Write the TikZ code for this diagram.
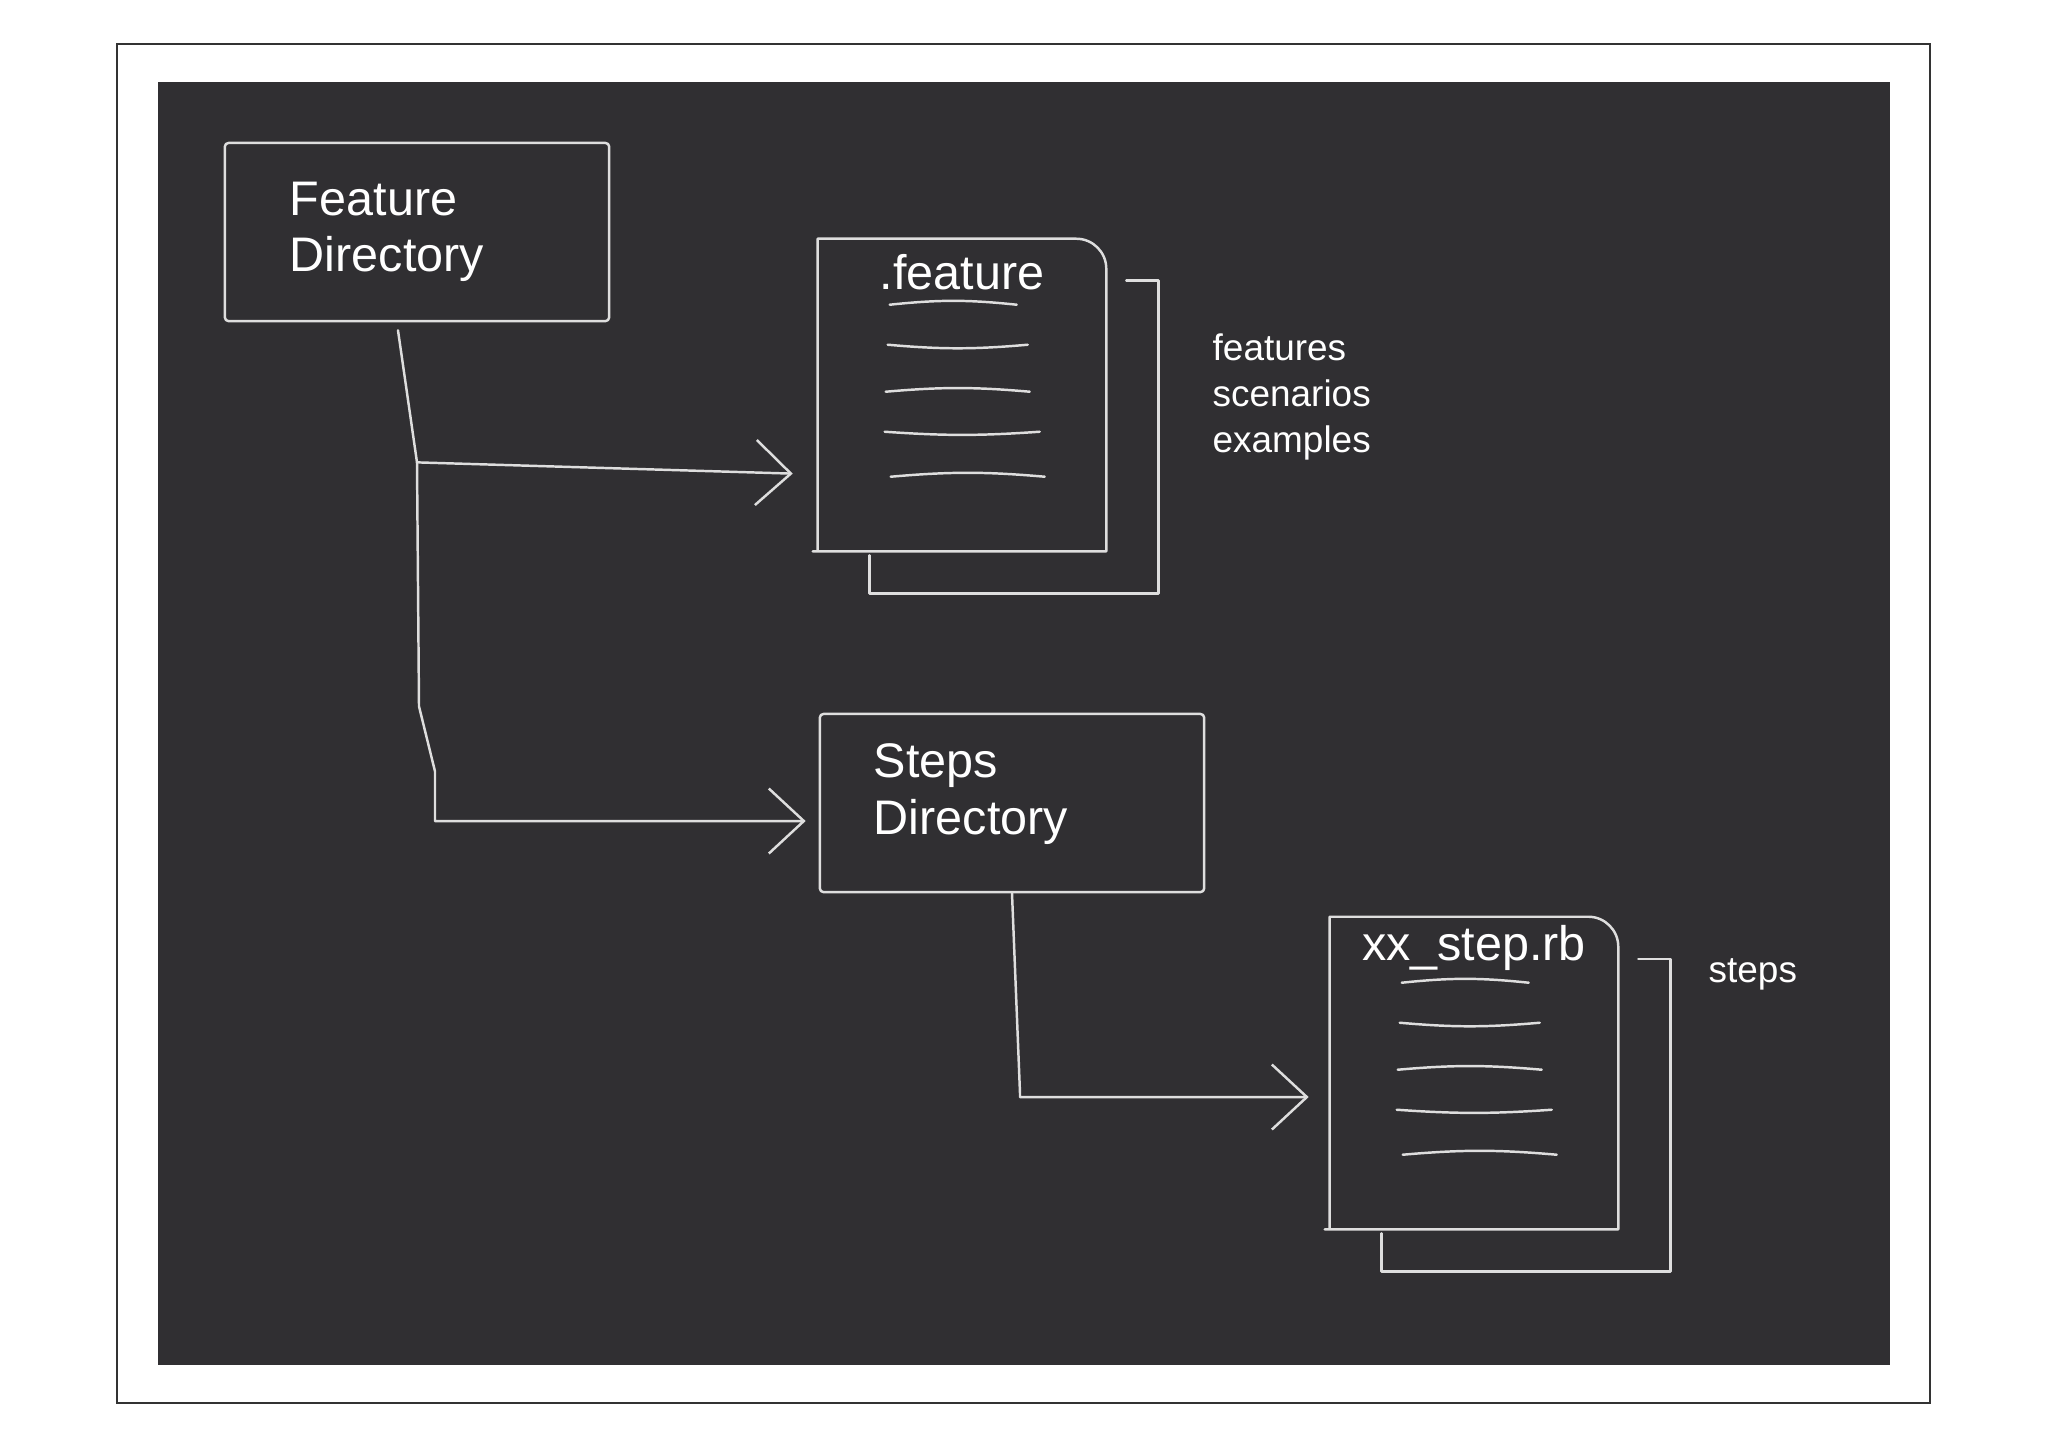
\documentclass[tikz,border=0pt]{standalone}
\usepackage{fontspec}
\setmainfont{Liberation Sans}
\usetikzlibrary{arrows.meta,positioning}

\definecolor{board}{RGB}{48,47,50}
\definecolor{chalkline}{RGB}{222,222,222}

\begin{document}
\begin{tikzpicture}[
    x=0.01cm, y=-0.01cm,
    chalk/.style={draw=chalkline, line width=0.7pt, line cap=round, line join=round},
    dirbox/.style={chalk, rectangle, rounded corners=1pt, align=left, text=white, font=\fontsize{13.8pt}{16pt}\selectfont, minimum height=1.78cm, inner xsep=0.65cm, text width=2.54cm},
    page/.style={rectangle, minimum width=2.87cm, minimum height=3.11cm, inner sep=0pt},
    pagetitle/.style={text=white, font=\fontsize{13.8pt}{16pt}\selectfont, inner sep=0pt},
    note/.style={text=white, align=left, font=\fontsize{10.5pt}{13.1pt}\selectfont, inner sep=0pt},
    flow/.style={chalk, -{Straight Barb[length=3.5mm, width=6.5mm]}}
]
% paper, frame and board
\fill[white] (0,0) rectangle (2048,1447);
\draw[black!80, line width=0.6pt] (117,44) rectangle (1930,1403);
\fill[board] (158,82) rectangle (1890,1365);

% directories
\node[dirbox] (featdir) at (417,232) {Feature\\Directory};
\node[dirbox, inner xsep=0.54cm, text width=2.76cm, text depth=0.84cm] (stepsdir) at (1012,803) {Steps\\Directory};

% files
\node[page] (featdoc) at (962,395) {};
\node[page] (stepdoc) at (1474,1073) {};
\node[page] (featback) at ([shift={(52,42)}]featdoc.center) {};
\node[page] (stepback) at ([shift={(52,42)}]stepdoc.center) {};
\node[pagetitle, below=0.15cm of featdoc.north] (feattitle) {.feature};
\node[pagetitle, below=0.08cm of stepdoc.north] (steptitle) {xx\_step.rb};

\foreach \doc/\back in {featdoc/featback, stepdoc/stepback} {
  \draw[chalk] ([xshift=-0.05cm]\doc.south west) -- (\doc.south east) -- ([yshift=-0.3cm]\doc.north east) arc[start angle=0, end angle=90, radius=0.3cm] -- (\doc.north west) -- (\doc.south west);
  \draw[chalk] ([xshift=0.2cm]\doc.east |- \back.north) -- (\back.north east) -- (\back.south east) -- (\back.south west) -- ([yshift=-0.04cm]\back.west |- \doc.south);
  \foreach \dy/\xa/\xb/\bend in {66/72/199/6, 106/70/210/-5, 153/68/212/5, 193/67/222/-4, 238/73/227/5}
    \draw[chalk] ([shift={(\xa,\dy)}]\doc.north west) to[bend left=\bend] ([shift={(\xb,\dy)}]\doc.north west);
}

% notes
\node[note, anchor=west] (featnote) at (1212,397) {features\\scenarios\\examples};
\node[note, anchor=west] (stepnote) at (1708,974) {steps};

% connectors
\coordinate (branch) at ([yshift=-1.4cm]featdir.south);
\draw[chalk] ([xshift=-0.19cm, yshift=-0.08cm]featdir.south) -- (branch);
\draw[flow, shorten >=0.25cm] (branch) -- ([yshift=-0.12cm]branch -| featdoc.west);
\draw[flow, shorten >=0.13cm] (branch) -- ++(2,244) -- ++(16,65) |- ([yshift=-0.18cm]stepsdir.west);
\draw[flow, shorten >=0.21cm] (stepsdir.south) -- ++(8,200) |- ([yshift=-0.24cm]stepdoc.west);
\end{tikzpicture}
\end{document}
